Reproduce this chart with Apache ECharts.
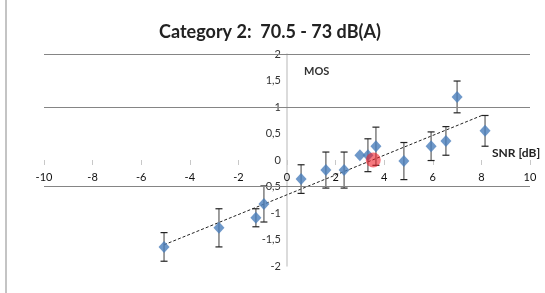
<!DOCTYPE html>
<html lang="en">
<head>
<meta charset="UTF-8" />
<title>Category 2</title>
<script src="https://cdn.jsdelivr.net/npm/echarts@6/dist/echarts.min.js"></script>
<style>
  html, body { margin: 0; padding: 0; background: #fff; }
  #chart { width: 545px; height: 293px; }
</style>
</head>
<body>
<div id="chart"></div>
<script>
// values
const snr    = [-5.06, -2.80, -1.28, -0.95, 0.58, 1.60, 2.35, 3.00, 3.33, 3.66, 4.81, 5.93, 6.54, 8.15, 7.00];
const mos    = [-1.64, -1.28, -1.09, -0.83, -0.36, -0.19, -0.19, 0.09, 0.09, 0.26, -0.02, 0.26, 0.36, 0.55, 1.19];
const mosErr = [0.27, 0.36, 0.17, 0.34, 0.27, 0.34, 0.34, 0, 0.31, 0.36, 0.35, 0.27, 0.27, 0.29, 0.30];
const trendX = [-5.06, 8.07];
const trendY = [-1.60, 0.85];
const crossPoint = [3.55, 0];
const gridLines = [2, 1, -0.5];

const font = "Lato, 'Open Sans', sans-serif";
let chart = echarts.init(document.getElementById("chart"));

const points = snr.map((x, i) => [x, mos[i]]);
const bars = snr.map((x, i) => [x, mos[i] - mosErr[i], mos[i] + mosErr[i]]);

// grid box: x from 44 to 530, y from 54 to 266
const gLeft = 44, gRight = 15, gTop = 54, gBottom = 27;
const gW = 545 - gLeft - gRight, gH = 293 - gTop - gBottom;
// move the axes so they cross at (0, 0), labels included
const yOffset = -gW * (0 - -10) / 20;
const xOffset = -gH * (0 - -2) / 4;

chart.setOption({
  animation: false,
  title: {
    text: "Category 2:  70.5 - 73 dB(A)",
    left: 265, top: 18, textAlign: "center",
    textStyle: { fontFamily: font, fontWeight: "bold", fontSize: 18, color: "#222" }
  },
  grid: { left: gLeft, right: gRight, top: gTop, bottom: gBottom },
  xAxis: {
    type: "value", min: -10, max: 10, interval: 2,
    position: "bottom", offset: xOffset,
    axisLine: { show: false, onZero: false },
    axisTick: { show: true, length: 5, lineStyle: { color: "#c8c8c8" } },
    axisLabel: { margin: 12, fontFamily: font, fontSize: 11, color: "#111" },
    splitLine: { show: false }
  },
  yAxis: {
    type: "value", min: -2, max: 2, interval: 0.5,
    position: "left", offset: yOffset,
    axisLine: { show: true, onZero: false, lineStyle: { color: "#cfcfcf", width: 1.5 } },
    axisTick: { show: false },
    axisLabel: {
      margin: 6, fontFamily: font, fontSize: 11, color: "#333",
      formatter: v => String(v).replace(".", ",")
    },
    splitLine: { show: false }
  },
  graphic: [
    { type: "line", shape: { x1: 6, y1: 0, x2: 6, y2: 293 }, style: { stroke: "#b0b0b0", lineWidth: 1.5 } },
    { type: "text", left: 304, top: 66, style: { text: "MOS", font: "bold 11px " + font, fill: "#333" } },
    { type: "text", left: 492, top: 147, style: { text: "SNR [dB]", font: "bold 12px " + font, fill: "#222" } }
  ],
  series: [
    {
      type: "line",
      data: trendX.map((x, i) => [x, trendY[i]]),
      symbol: "none",
      lineStyle: { color: "#222", width: 1, type: [3, 2] },
      z: 2,
      markLine: {
        silent: true, symbol: "none", label: { show: false },
        lineStyle: { color: "#858585", type: "solid", width: 1 },
        data: gridLines.map(v => ({ yAxis: v }))
      }
    },
    {
      type: "custom",
      data: bars,
      z: 3,
      renderItem: (params, api) => {
        if (api.value(1) === api.value(2)) return null;
        const lo = api.coord([api.value(0), api.value(1)]);
        const hi = api.coord([api.value(0), api.value(2)]);
        const c = 3.5;
        return {
          type: "group",
          children: [
            { type: "line", shape: { x1: lo[0], y1: lo[1], x2: hi[0], y2: hi[1] }, style: { stroke: "#6a6a6a", lineWidth: 1.3 } },
            { type: "line", shape: { x1: lo[0] - c, y1: lo[1], x2: lo[0] + c, y2: lo[1] }, style: { stroke: "#222", lineWidth: 1.2 } },
            { type: "line", shape: { x1: hi[0] - c, y1: hi[1], x2: hi[0] + c, y2: hi[1] }, style: { stroke: "#222", lineWidth: 1.2 } }
          ]
        };
      }
    },
    {
      type: "scatter",
      data: points,
      symbol: "diamond",
      symbolSize: [11, 12],
      itemStyle: { color: "#4a7ebb" },
      z: 4
    },
    {
      type: "scatter",
      data: [crossPoint],
      symbol: "circle",
      symbolSize: 15,
      itemStyle: { color: "rgba(240,30,40,0.75)" },
      z: 5
    }
  ]
});
</script>
</body>
</html>
